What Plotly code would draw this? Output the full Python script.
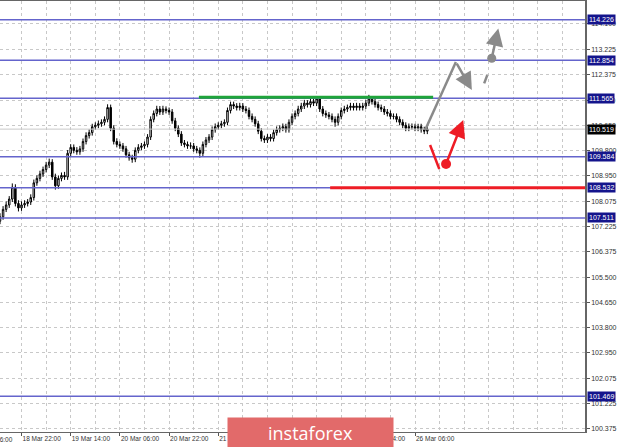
import plotly.graph_objects as go

# ---------------- data ----------------
bar_index = list(range(9, 149))
opens = [107.40, 107.55, 107.80, 107.95, 108.15, 108.55, 108.00, 107.85, 107.95, 108.00,
         108.05, 108.20, 108.70, 108.85, 109.00, 109.15, 109.30, 109.40, 108.90, 108.60,
         108.85, 108.95, 108.90, 109.70, 109.90, 109.80, 109.75, 109.85, 110.10, 110.30,
         110.40, 110.60, 110.65, 110.70, 110.75, 110.85, 111.25, 110.55, 110.10, 110.00,
         109.95, 109.85, 109.65, 109.55, 109.50, 109.80, 109.90, 109.95, 110.00, 110.25,
         110.85, 111.05, 111.20, 111.10, 111.20, 111.15, 111.10, 110.80, 110.55, 110.35,
         110.05, 110.00, 109.95, 109.95, 109.85, 109.80, 109.70, 110.00, 110.15, 110.25,
         110.50, 110.60, 110.65, 110.70, 110.75, 111.15, 111.35, 111.30, 111.25, 111.30,
         111.20, 111.15, 110.95, 110.85, 110.70, 110.45, 110.20, 110.15, 110.25, 110.20,
         110.40, 110.50, 110.55, 110.60, 110.50, 110.75, 110.95, 111.05, 111.20, 111.30,
         111.40, 111.35, 111.45, 111.40, 111.55, 111.20, 111.05, 111.00, 110.95, 110.85,
         110.75, 110.95, 111.15, 111.20, 111.25, 111.30, 111.25, 111.30, 111.25, 111.30,
         111.40, 111.55, 111.45, 111.35, 111.25, 111.20, 111.10, 111.05, 110.95, 110.95,
         110.85, 110.75, 110.65, 110.55, 110.60, 110.60, 110.55, 110.60, 110.50, 110.45]
highs = [107.67, 107.91, 108.07, 108.25, 108.68, 108.65, 108.11, 108.07, 108.11, 108.15,
         108.31, 108.81, 108.95, 109.11, 109.25, 109.41, 109.52, 109.50, 109.01, 108.95,
         109.05, 109.07, 109.81, 110.01, 110.00, 109.91, 109.95, 110.20, 110.41, 110.51,
         110.70, 110.75, 110.81, 110.85, 110.95, 111.36, 111.35, 110.65, 110.21, 110.10,
         110.05, 109.95, 109.75, 109.65, 109.90, 110.01, 110.05, 110.10, 110.35, 110.95,
         111.15, 111.31, 111.30, 111.31, 111.29, 111.25, 111.20, 110.90, 110.65, 110.45,
         110.15, 110.10, 110.07, 110.05, 109.95, 109.90, 110.10, 110.25, 110.35, 110.61,
         110.71, 110.75, 110.80, 110.85, 111.25, 111.45, 111.45, 111.40, 111.41, 111.40,
         111.30, 111.25, 111.05, 110.95, 110.80, 110.55, 110.30, 110.35, 110.35, 110.50,
         110.61, 110.65, 110.71, 110.70, 110.85, 111.05, 111.15, 111.31, 111.41, 111.51,
         111.50, 111.55, 111.55, 111.64, 111.62, 111.30, 111.15, 111.10, 111.05, 110.95,
         111.05, 111.25, 111.31, 111.35, 111.41, 111.40, 111.41, 111.40, 111.41, 111.51,
         111.68, 111.63, 111.55, 111.45, 111.35, 111.30, 111.20, 111.15, 111.05, 111.05,
         110.95, 110.85, 110.75, 110.71, 110.71, 110.70, 110.70, 110.70, 110.60, 110.61]
lows = [107.30, 107.45, 107.71, 107.85, 108.05, 107.90, 107.73, 107.75, 107.85, 107.90,
        107.95, 108.10, 108.60, 108.75, 108.90, 109.05, 109.20, 108.80, 108.47, 108.50,
        108.75, 108.80, 108.80, 109.60, 109.70, 109.65, 109.65, 109.75, 110.00, 110.20,
        110.30, 110.50, 110.55, 110.60, 110.65, 110.75, 110.45, 110.00, 109.90, 109.85,
        109.75, 109.55, 109.45, 109.38, 109.40, 109.70, 109.80, 109.85, 109.90, 110.15,
        110.75, 110.95, 111.00, 111.00, 111.05, 111.00, 110.70, 110.45, 110.25, 109.95,
        109.90, 109.85, 109.85, 109.75, 109.70, 109.55, 109.60, 109.90, 110.05, 110.15,
        110.40, 110.50, 110.55, 110.60, 110.65, 111.05, 111.20, 111.15, 111.15, 111.10,
        111.05, 110.85, 110.75, 110.60, 110.35, 110.10, 110.05, 110.05, 110.10, 110.10,
        110.30, 110.40, 110.45, 110.40, 110.40, 110.65, 110.85, 110.95, 111.10, 111.20,
        111.25, 111.25, 111.30, 111.30, 111.10, 110.95, 110.90, 110.85, 110.75, 110.60,
        110.65, 110.85, 111.05, 111.10, 111.15, 111.15, 111.15, 111.15, 111.15, 111.20,
        111.30, 111.35, 111.25, 111.15, 111.10, 111.00, 110.95, 110.85, 110.85, 110.75,
        110.65, 110.55, 110.45, 110.45, 110.50, 110.45, 110.45, 110.40, 110.35, 110.35]
closes = [107.55, 107.80, 107.95, 108.15, 108.55, 108.00, 107.85, 107.95, 108.00, 108.05,
          108.20, 108.70, 108.85, 109.00, 109.15, 109.30, 109.40, 108.90, 108.60, 108.85,
          108.95, 108.90, 109.70, 109.90, 109.80, 109.75, 109.85, 110.10, 110.30, 110.40,
          110.60, 110.65, 110.70, 110.75, 110.85, 111.25, 110.55, 110.10, 110.00, 109.95,
          109.85, 109.65, 109.55, 109.50, 109.80, 109.90, 109.95, 110.00, 110.25, 110.85,
          111.05, 111.20, 111.10, 111.20, 111.15, 111.10, 110.80, 110.55, 110.35, 110.05,
          110.00, 109.95, 109.95, 109.85, 109.80, 109.70, 110.00, 110.15, 110.25, 110.50,
          110.60, 110.65, 110.70, 110.75, 111.15, 111.35, 111.30, 111.25, 111.30, 111.20,
          111.15, 110.95, 110.85, 110.70, 110.45, 110.20, 110.15, 110.25, 110.20, 110.40,
          110.50, 110.55, 110.60, 110.50, 110.75, 110.95, 111.05, 111.20, 111.30, 111.40,
          111.35, 111.45, 111.40, 111.55, 111.20, 111.05, 111.00, 110.95, 110.85, 110.75,
          110.95, 111.15, 111.20, 111.25, 111.30, 111.25, 111.30, 111.25, 111.30, 111.40,
          111.55, 111.45, 111.35, 111.25, 111.20, 111.10, 111.05, 110.95, 110.95, 110.85,
          110.75, 110.65, 110.55, 110.60, 110.60, 110.55, 110.60, 110.50, 110.45, 110.52]

x_tick_idx = [16, 32, 48, 64, 80, 96, 112, 128, 144]
x_tick_text = ["18 Mar 22:00", "19 Mar 14:00", "20 Mar 06:00", "20 Mar 22:00",
               "21 Mar 14:00", "22 Mar 06:00", "22 Mar 22:00", "25 Mar 14:00",
               "26 Mar 06:00"]
first_label_text = "18 Mar 06:00"

y_tick_vals = [114.100, 113.225, 112.375, 111.500, 110.650, 109.800, 108.950, 108.075,
               107.225, 106.375, 105.500, 104.650, 103.800, 102.950, 102.075, 101.225,
               100.375]
level_values = [114.226, 112.854, 111.565, 109.584, 108.532, 107.511, 101.469]
current_price = 110.519

x_range = [9.0, 199.3]
y_range = [100.259, 114.859]

# analysis drawings (bar index, price)
green_x = [73.7, 149.9]
green_y = [111.60, 111.60]
red_level_x = [116.4, 199.3]
red_level_y = [108.532, 108.532]
gray_path_x = [147.3, 157.3]
gray_path_y = [110.49, 112.79]
gray_arrow1 = dict(tail=(157.3, 112.79), tip=(162.5, 111.84))
gray_dash_x = [166.5, 167.5]
gray_dash_y = [112.07, 112.35]
gray_dot = (168.96, 112.92)
gray_arrow2_tip = (171.1, 113.93)
red_seg_x = [148.9, 151.9]
red_seg_y = [109.98, 109.17]
red_dot = (154.1, 109.34)
red_arrow_tip = (159.7, 110.83)

LEVEL_COLOR = "#6464cc"
BOX_COLOR = "#14148c"
GRAY = "#8a8a8a"
RED = "#ee1c25"
GREEN = "#1fa53a"

fig = go.Figure()

fig.add_trace(go.Candlestick(
    x=bar_index, open=opens, high=highs, low=lows, close=closes,
    increasing=dict(line=dict(color="black", width=1), fillcolor="white"),
    decreasing=dict(line=dict(color="black", width=1), fillcolor="black"),
    whiskerwidth=0, showlegend=False, hoverinfo="skip"))

# current price line
fig.add_trace(go.Scatter(x=x_range, y=[current_price, current_price], mode="lines",
                         line=dict(color="#c8c8c8", width=1), showlegend=False,
                         hoverinfo="skip"))

# level lines
for v in level_values:
    fig.add_trace(go.Scatter(x=x_range, y=[v, v], mode="lines",
                             line=dict(color=LEVEL_COLOR, width=1.5), showlegend=False,
                             hoverinfo="skip"))

fig.add_trace(go.Scatter(x=green_x, y=green_y, mode="lines",
                         line=dict(color=GREEN, width=3), showlegend=False, hoverinfo="skip"))
fig.add_trace(go.Scatter(x=red_level_x, y=red_level_y, mode="lines",
                         line=dict(color=RED, width=3), showlegend=False, hoverinfo="skip"))
fig.add_trace(go.Scatter(x=gray_path_x, y=gray_path_y, mode="lines",
                         line=dict(color=GRAY, width=2.5), showlegend=False, hoverinfo="skip"))
fig.add_trace(go.Scatter(x=gray_dash_x, y=gray_dash_y, mode="lines",
                         line=dict(color=GRAY, width=2.5), showlegend=False, hoverinfo="skip"))
fig.add_trace(go.Scatter(x=[gray_dot[0]], y=[gray_dot[1]], mode="markers",
                         marker=dict(color=GRAY, size=9), showlegend=False, hoverinfo="skip"))
fig.add_trace(go.Scatter(x=red_seg_x, y=red_seg_y, mode="lines",
                         line=dict(color=RED, width=2.5), showlegend=False, hoverinfo="skip"))
fig.add_trace(go.Scatter(x=[red_dot[0]], y=[red_dot[1]], mode="markers",
                         marker=dict(color=RED, size=10), showlegend=False, hoverinfo="skip"))

annotations = []


def arrow(tail, tip, color):
    return dict(x=tip[0], y=tip[1], ax=tail[0], ay=tail[1], xref="x", yref="y",
                axref="x", ayref="y", text="", showarrow=True, arrowhead=2,
                arrowsize=1.4, arrowwidth=2.5, arrowcolor=color, standoff=0)


annotations.append(arrow(gray_arrow1["tail"], gray_arrow1["tip"], GRAY))
annotations.append(arrow(gray_dot, gray_arrow2_tip, GRAY))
annotations.append(arrow(red_dot, red_arrow_tip, RED))

# level value boxes on the price axis
for v in level_values:
    annotations.append(dict(x=1, xref="paper", y=v, yref="y", xanchor="left",
                            yanchor="middle", xshift=2, text=f"{v:.3f}", showarrow=False,
                            bgcolor=BOX_COLOR, borderpad=1,
                            font=dict(color="white", size=7, family="Liberation Sans")))
annotations.append(dict(x=1, xref="paper", y=current_price, yref="y", xanchor="left",
                        yanchor="middle", xshift=2, text=f"{current_price:.3f}",
                        showarrow=False, bgcolor="black", borderpad=1,
                        font=dict(color="white", size=7, family="Liberation Sans")))

# partially visible first time label (left of the visible range)
annotations.append(dict(x=-28 / 585, xref="paper", y=0, yref="paper", xanchor="left",
                        yanchor="top", yshift=-2, text=first_label_text, showarrow=False,
                        font=dict(color="#333333", size=6.5, family="Liberation Sans")))

# watermark
annotations.append(dict(x=0.5308, xref="paper", y=-0.001, yref="paper", xanchor="center",
                        yanchor="middle", width=165, height=29, text="instaforex",
                        showarrow=False, bgcolor="#e26a6a", borderpad=0,
                        font=dict(color="white", size=18, family="Open Sans")))

fig.update_layout(
    width=620, height=447,
    margin=dict(l=0, r=35, t=1, b=15, pad=0),
    paper_bgcolor="white", plot_bgcolor="white",
    showlegend=False,
    annotations=annotations,
    xaxis=dict(range=x_range, rangeslider=dict(visible=False), tickmode="array",
               tickvals=x_tick_idx, ticktext=x_tick_text, ticks="outside", ticklen=3,
               tickcolor="#555555", ticklabelposition="outside right",
               tickfont=dict(size=6.5, color="#333333", family="Liberation Sans"),
               showgrid=True, gridcolor="#c8c8c8", griddash="dot", gridwidth=1,
               minor=dict(dtick=8, tick0=0, showgrid=True, gridcolor="#c8c8c8",
                          griddash="dot", gridwidth=1),
               showline=True, linecolor="#666666", linewidth=1, mirror=True,
               zeroline=False, fixedrange=True),
    yaxis=dict(range=y_range, side="right", tickmode="array", tickvals=y_tick_vals,
               ticktext=[f"{v:.3f}" for v in y_tick_vals], ticks="outside", ticklen=3,
               tickcolor="#555555",
               tickfont=dict(size=7, color="#333333", family="Liberation Sans"),
               showgrid=True, gridcolor="#c8c8c8", griddash="dot", gridwidth=1,
               showline=True, linecolor="#666666", linewidth=1.5, zeroline=False,
               fixedrange=True),
)

fig.write_html("out.html", config=dict(displayModeBar=False),
               post_script="document.body.style.margin='0px';document.body.style.padding='0px';")
